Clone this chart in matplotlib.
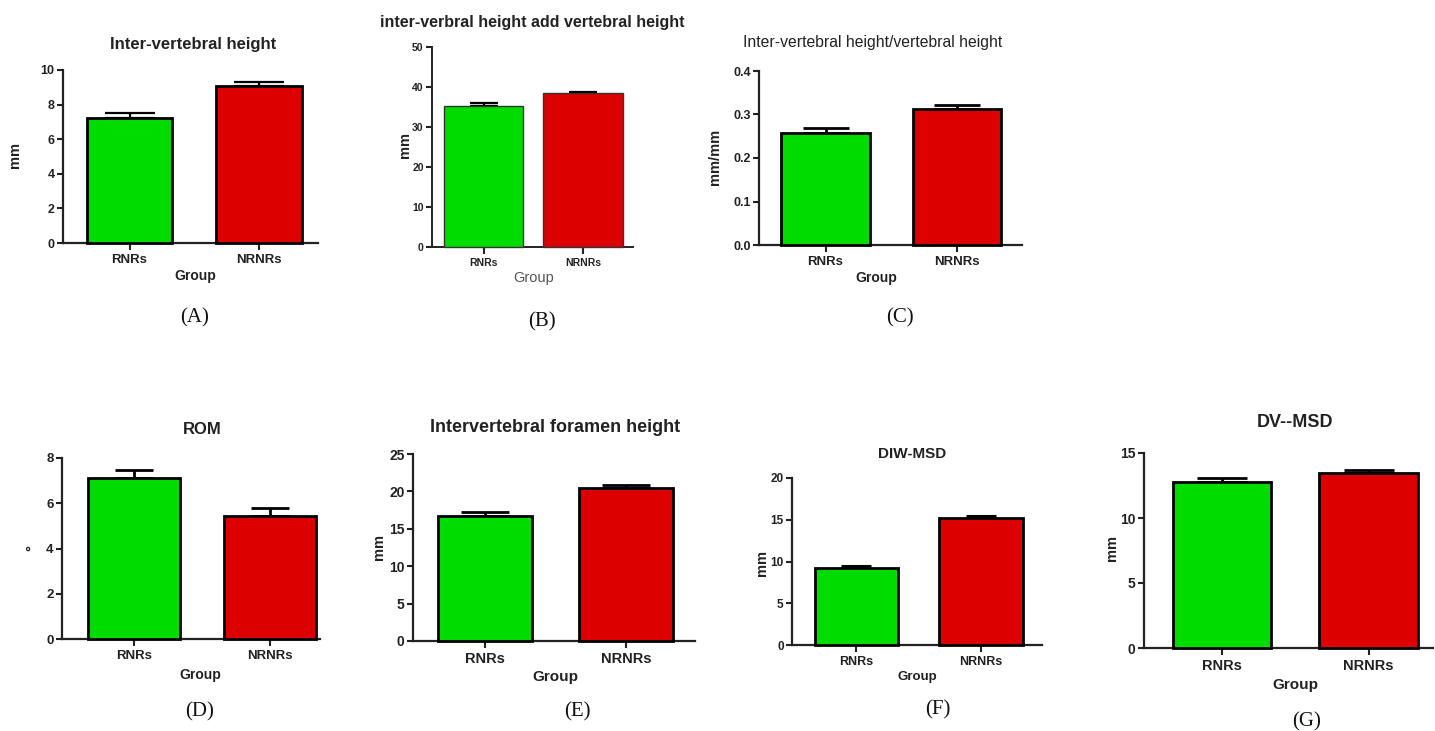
import matplotlib
matplotlib.use("Agg")
import matplotlib.pyplot as plt
import numpy as np

W, H = 1435, 731
groups = ["RNRs", "NRNRs"]

# ---- data (means and SEM) ----
a_mean = [7.2, 9.1];     a_sem = [0.3, 0.2]
b_mean = [35.3, 38.4];   b_sem = [0.7, 0.4]
c_mean = [0.258, 0.312]; c_sem = [0.011, 0.009]
d_mean = [7.1, 5.45];    d_sem = [0.38, 0.35]
e_mean = [16.7, 20.4];   e_sem = [0.5, 0.5]
f_mean = [9.2, 15.2];    f_sem = [0.3, 0.3]
g_mean = [12.8, 13.5];   g_sem = [0.3, 0.2]

titles = ["Inter-vertebral height", "inter-verbral height add vertebral height",
          "Inter-vertebral height/vertebral height", "ROM",
          "Intervertebral foramen height", "DIW-MSD", "DV--MSD"]
ylabels = ["mm", "mm", "mm/mm", "°", "mm", "mm", "mm"]
ymaxes = [10, 50, 0.4, 8, 25, 20, 15]
ysteps = [2, 10, 0.1, 2, 5, 5, 5]
panel_labels = ["(A)", "(B)", "(C)", "(D)", "(E)", "(F)", "(G)"]
means = [a_mean, b_mean, c_mean, d_mean, e_mean, f_mean, g_mean]
sems = [a_sem, b_sem, c_sem, d_sem, e_sem, f_sem, g_sem]

# ---- layout (pixels) ----
layout = [
    dict(x0=63, x1=318, yt=70, yb=243, bars=((87, 172), (216, 302)), cap=0.58,
         title=(193, 44, 12, "bold"), ylab=(15, 155), group=(195, 276, 10, "bold"),
         plab=(195, 318), tick=9.5, ytick=9, elw=1.6),
    dict(x0=432, x1=633, yt=47, yb=247, bars=((444, 523), (543, 623)), cap=0.36,
         title=(532, 23, 11.5, "bold"), ylab=(405, 145), group=(534, 278, 10.5, "normal"),
         plab=(542, 322), tick=7.5, ytick=7.5, elw=1.6),
    dict(x0=759, x1=1022, yt=71, yb=245, bars=((781, 870), (913, 1001)), cap=0.53,
         title=(873, 42, 11.3, "normal"), ylab=(715, 157), group=(876, 278, 10, "bold"),
         plab=(900, 318), tick=9.5, ytick=9, elw=2.0),
    dict(x0=62, x1=320, yt=458, yb=639, bars=((88, 180), (224, 316)), cap=0.42,
         title=(202, 430, 12, "bold"), ylab=(32, 548), group=(200, 675, 10, "bold"),
         plab=(200, 712), tick=9.5, ytick=9.5, elw=2.0),
    dict(x0=413, x1=695, yt=454, yb=641, bars=((438, 532), (579, 673)), cap=0.5,
         title=(555, 427, 13, "bold"), ylab=(379, 547), group=(555, 677, 11, "bold"),
         plab=(577, 712), tick=10.5, ytick=10, elw=2.0),
    dict(x0=792, x1=1042, yt=478, yb=645, bars=((815, 898), (939, 1023)), cap=0.35,
         title=(912, 454, 11, "bold"), ylab=(762, 563), group=(917, 677, 9.5, "bold"),
         plab=(938, 710), tick=9, ytick=8.5, elw=2.2),
    dict(x0=1144, x1=1433, yt=453, yb=648, bars=((1173, 1271), (1319, 1418)), cap=0.5,
         title=(1295, 423, 13, "bold"), ylab=(1112, 548), group=(1295, 685, 11, "bold"),
         plab=(1307, 722), tick=10.5, ytick=10, elw=2.0),
]

colors = ["#00DC00", "#DC0000"]
SANS = ["Liberation Sans", "DejaVu Sans"]
SERIF = ["Liberation Serif", "DejaVu Serif"]

fig = plt.figure(figsize=(W / 100, H / 100), dpi=100)
fig.patch.set_facecolor("white")

def fx(px):
    return px / W

def fy(py):
    return 1 - py / H

for i, L in enumerate(layout):
    ax = fig.add_axes([fx(L["x0"]), fy(L["yb"]), (L["x1"] - L["x0"]) / W,
                       (L["yb"] - L["yt"]) / H])
    (l0, r0), (l1, r1) = L["bars"]
    c0, c1 = (l0 + r0) / 2, (l1 + r1) / 2
    d = c1 - c0
    bw_px = ((r0 - l0) + (r1 - l1)) / 2
    xlim = (-(c0 - L["x0"]) / d, 1 + (L["x1"] - c1) / d)
    x = np.arange(len(groups))
    thin = (i == 1)
    ax.bar(x, means[i], width=bw_px / d, color=colors,
           edgecolor="#333333" if thin else "black",
           linewidth=1.0 if thin else 2.0, zorder=3, clip_on=False)
    cap_pt = L["cap"] * bw_px / 2 * 72 / 100
    ax.errorbar(x, means[i], yerr=[np.zeros(len(groups)), sems[i]], fmt="none",
                ecolor="black", elinewidth=L["elw"],
                capsize=cap_pt, capthick=L["elw"], zorder=2, clip_on=False)
    ax.set_xlim(*xlim)
    ax.set_ylim(0, ymaxes[i])
    yt = np.arange(0, ymaxes[i] + ysteps[i] / 2, ysteps[i])
    ax.set_yticks(yt)
    if i == 2:
        ax.set_yticklabels([f"{v:.1f}" for v in yt])
    else:
        ax.set_yticklabels([f"{v:g}" for v in yt])
    ax.set_xticks(x)
    ax.set_xticklabels(groups)
    for s in ["top", "right"]:
        ax.spines[s].set_visible(False)
    for s in ["left", "bottom"]:
        ax.spines[s].set_linewidth(1.6 if not thin else 1.4)
        ax.spines[s].set_color("#222222")
    ax.tick_params(axis="y", direction="out", length=4, width=1.5, pad=2,
                   labelsize=L["ytick"], colors="#222222")
    ax.tick_params(axis="x", direction="out", length=5, width=1.5, pad=3,
                   labelsize=L["tick"], colors="#222222")
    for lab in ax.get_xticklabels() + ax.get_yticklabels():
        lab.set_fontfamily(SANS)
        lab.set_fontweight("bold")
    ax.set_facecolor("none")

    tx, ty, ts, tw = L["title"]
    fig.text(fx(tx), fy(ty), titles[i], ha="center", va="center", fontsize=ts,
             fontweight=tw, family=SANS, color="#222222")
    lx, ly = L["ylab"]
    fig.text(fx(lx), fy(ly), ylabels[i], ha="center", va="center", rotation=90,
             fontsize=10.5 if i != 3 else 11, fontweight="bold", family=SANS, color="#222222")
    gx, gy, gs, gw = L["group"]
    fig.text(fx(gx), fy(gy), "Group", ha="center", va="center", fontsize=gs,
             fontweight=gw, family=SANS, color="#555555" if gw == "normal" else "#222222")
    px_, py_ = L["plab"]
    fig.text(fx(px_), fy(py_), panel_labels[i], ha="center", va="center", fontsize=15,
             family=SERIF, color="#111111")

fig.savefig("out.png", dpi=100, facecolor="white")
